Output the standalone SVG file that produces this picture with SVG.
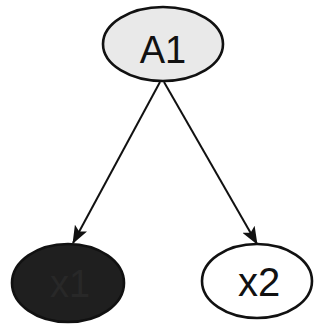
<svg xmlns="http://www.w3.org/2000/svg" width="324" height="324" viewBox="0 0 324 324">
<defs>
<marker id="ah" markerWidth="18" markerHeight="14" refX="17" refY="7" orient="auto" markerUnits="userSpaceOnUse" viewBox="0 0 18 14">
<path d="M0,0 L18,7 L0,14 L4,7 Z" fill="#111"/>
</marker>
<style>
.node{stroke:#111;stroke-width:2.6}
.lbl{font-family:"Liberation Sans",Arial,sans-serif;text-anchor:middle}
.edge{stroke:#111;stroke-width:2;fill:none}
</style>
</defs>
<rect width="324" height="324" fill="#fff"/>
<g id="edges">
<line class="edge" x1="160" y1="82" x2="73" y2="243" marker-end="url(#ah)"/>
<line class="edge" x1="164" y1="82" x2="257" y2="244" marker-end="url(#ah)"/>
</g>
<g id="A1">
<ellipse class="node" cx="163" cy="44" rx="60" ry="37" fill="#e9e9e9"/>
<text class="lbl" x="163" y="63" font-size="38" fill="#111">A1</text>
</g>
<g id="x1">
<ellipse class="node" cx="68" cy="283" rx="56" ry="39" fill="#1f1f1f"/>
<text class="lbl" x="70" y="297" font-size="38" fill="#282828">x1</text>
</g>
<g id="x2">
<ellipse class="node" cx="257" cy="281" rx="55" ry="37" fill="#fff"/>
<text class="lbl" x="259" y="296" font-size="40" fill="#111">x2</text>
</g>
</svg>
